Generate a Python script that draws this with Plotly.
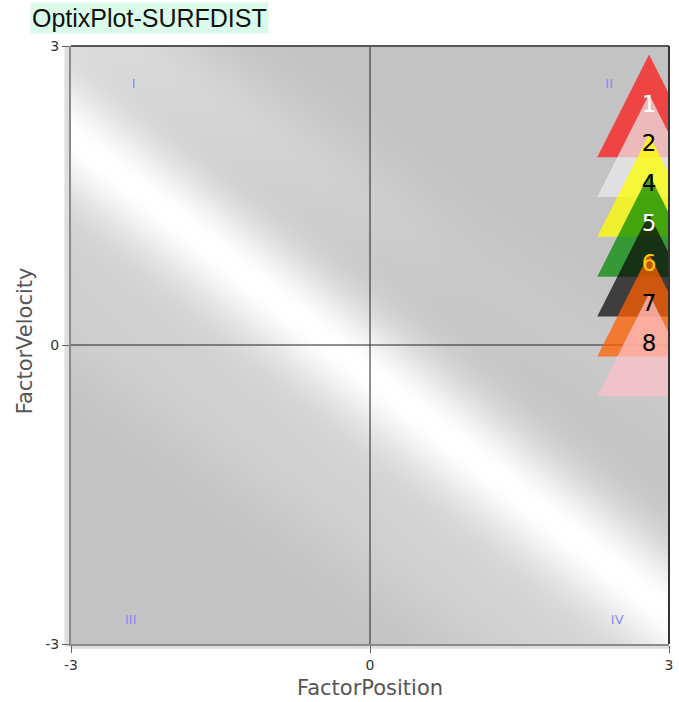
import numpy as np
import plotly.graph_objects as go

# ---- data ----
labels = ["1", "2", "4", "5", "6", "7", "8"]
pos_x = [2.8, 2.8, 2.8, 2.8, 2.8, 2.8, 2.8]
vel_y = [2.4, 2.0, 1.6, 1.2, 0.8, 0.4, 0.0]
fill_colors = ["rgba(255,20,20,0.72)", "rgba(236,236,240,0.7)", "rgba(255,255,0,0.75)",
               "rgba(0,135,0,0.72)", "rgba(10,10,10,0.72)", "rgba(255,95,0,0.75)",
               "rgba(255,192,203,0.72)"]
label_colors = ["#ffffff", "#000000", "#000000", "#ffffff", "#ffcc00", "#000000", "#000000"]

quad_text = ["I", "II", "III", "IV"]
quad_x = [-2.37, 2.40, -2.40, 2.48]
quad_y = [2.61, 2.61, -2.77, -2.77]

tick_vals = [-3, 0, 3]
tick_text = ["-3", "0", "3"]
x_range = [-3, 3]
y_range = [-3, 3]

# marker geometry (data units)
HALF_W = 0.52
HALF_H = 0.515

fig = go.Figure()

# ---- background gradient (style) ----
gx = np.linspace(-3, 3, 121)
gy = np.linspace(-3, 3, 121)
GX, GY = np.meshgrid(gx, gy)
v1 = GY + 0.8 * GX + 0.3
main = np.where(v1 >= 0, np.exp(-v1**2 / (2 * 0.47**2)),
                0.65 * np.exp(-v1**2 / (2 * 0.4**2)) + 0.35 * np.exp(-v1**2 / (2 * 1.0**2)))
v2 = GY + 0.65 * GX - 1.42
amp2 = 0.10 + 0.32 * np.clip((1.0 - GX) / 4.0, 0, 1)
b2 = amp2 * np.exp(-v2**2 / (2 * 0.45**2))
v3 = GY + 0.73 * GX + 1.9
b3 = 0.13 * np.exp(-v3**2 / (2 * 0.45**2))
Z = 1 - (1 - main) * (1 - b2) * (1 - b3)
fig.add_trace(go.Heatmap(x=gx, y=gy, z=Z, zmin=0, zmax=1, zsmooth="best",
                         colorscale=[[0, "rgb(195,195,195)"], [1, "rgb(255,255,255)"]],
                         showscale=False, hoverinfo="skip"))

# ---- zero lines ----
fig.add_trace(go.Scatter(x=x_range, y=[0, 0], mode="lines",
                         line=dict(color="#222222", width=1), hoverinfo="skip"))
fig.add_trace(go.Scatter(x=[0, 0], y=y_range, mode="lines",
                         line=dict(color="#222222", width=1), hoverinfo="skip"))

# ---- triangles ----
for cx, cy, col in zip(pos_x, vel_y, fill_colors):
    tx = [cx - HALF_W, cx, cx + HALF_W, cx - HALF_W]
    ty = [cy - HALF_H, cy + HALF_H, cy - HALF_H, cy - HALF_H]
    fig.add_trace(go.Scatter(x=tx, y=ty, mode="lines", fill="toself", fillcolor=col,
                             line=dict(width=0, color=col), hoverinfo="skip"))

# ---- labels ----
fig.add_trace(go.Scatter(x=pos_x, y=vel_y, mode="text", text=labels,
                         textposition="middle center",
                         textfont=dict(family="DejaVu Sans", size=23, color=label_colors),
                         hoverinfo="skip", cliponaxis=False))

# ---- quadrant labels ----
fig.add_trace(go.Scatter(x=quad_x, y=quad_y, mode="text", text=quad_text,
                         textposition="middle center",
                         textfont=dict(family="DejaVu Sans", size=13, color="#8a8af0"),
                         hoverinfo="skip"))

axis_common = dict(tickvals=tick_vals, ticktext=tick_text, ticks="outside", ticklen=7,
                   tickcolor="#666666", tickfont=dict(family="DejaVu Sans", size=14, color="#333333"),
                   showgrid=False, zeroline=False, showline=True, linecolor="#8a8a8a",
                   linewidth=2, fixedrange=True, automargin=False)

fig.update_layout(
    width=679, height=702,
    margin=dict(l=71, r=10, t=46, b=58),
    paper_bgcolor="white", plot_bgcolor="#c4c4c4",
    showlegend=False,
    xaxis=dict(range=x_range, **axis_common),
    yaxis=dict(range=y_range, **axis_common),
    shapes=[
        dict(type="rect", xref="paper", yref="paper", x0=-0.011, x1=0, y0=-0.004, y1=1,
             fillcolor="#dedede", line=dict(width=0), layer="below"),
        dict(type="rect", xref="paper", yref="paper", x0=0, x1=1, y0=-0.008, y1=0,
             fillcolor="#dedede", line=dict(width=0), layer="below"),
        dict(type="line", xref="paper", yref="paper", x0=0, x1=1, y0=1, y1=1,
             line=dict(color="#555555", width=2)),
        dict(type="line", xref="paper", yref="paper", x0=1, x1=1, y0=0, y1=1,
             line=dict(color="#333333", width=2)),
    ],
    annotations=[
        dict(text="OptixPlot-SURFDIST", xref="paper", yref="paper", x=-0.068, y=1.047,
             xanchor="left", yanchor="middle", showarrow=False, bgcolor="#dbfbea",
             borderpad=1, font=dict(family="Liberation Sans", size=25, color="#111111")),
        dict(text="FactorPosition", xref="paper", yref="paper", x=0.5, y=-0.073,
             xanchor="center", yanchor="middle", showarrow=False,
             font=dict(family="DejaVu Sans", size=21, color="#555555")),
        dict(text="FactorVelocity", xref="paper", yref="paper", x=-0.077, y=0.508,
             xanchor="center", yanchor="middle", showarrow=False, textangle=-90,
             font=dict(family="DejaVu Sans", size=21, color="#555555")),
    ],
)

fig.write_html("out.html", config={"displayModeBar": False},
               post_script="document.body.style.margin='0';")
